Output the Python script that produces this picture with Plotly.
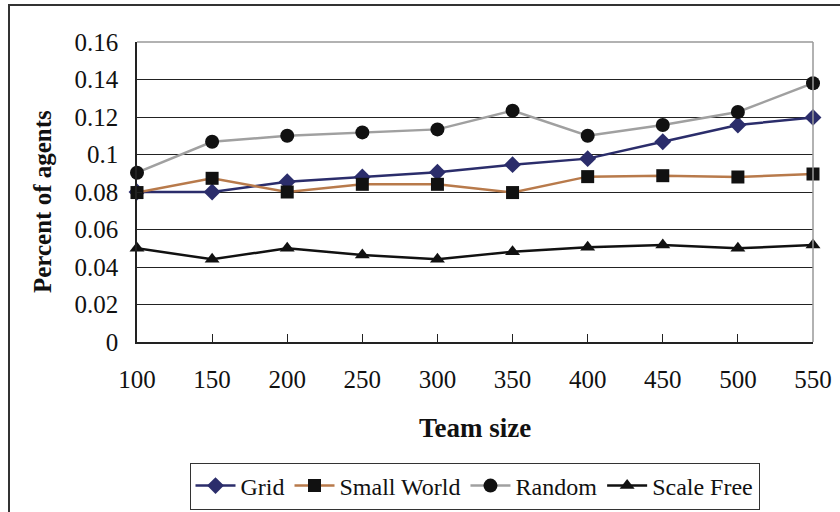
import plotly.graph_objects as go

team_size = [100, 150, 200, 250, 300, 350, 400, 450, 500, 550]
grid = [0.080, 0.080, 0.0855, 0.088, 0.0905, 0.0946, 0.0978, 0.1068, 0.1157, 0.1198]
small_world = [0.0797, 0.0873, 0.0800, 0.0841, 0.0841, 0.0797, 0.0882, 0.0887, 0.0880, 0.0896]
random_net = [0.0903, 0.1068, 0.1100, 0.1118, 0.1134, 0.1234, 0.1100, 0.1157, 0.1227, 0.1380]
scale_free = [0.0500, 0.0441, 0.0500, 0.0464, 0.0441, 0.0482, 0.0505, 0.0517, 0.0500, 0.0517]
y_ticks = [0, 0.02, 0.04, 0.06, 0.08, 0.1, 0.12, 0.14, 0.16]
y_ticktext = ["0", "0.02", "0.04", "0.06", "0.08", "0.1", "0.12", "0.14", "0.16"]

FONT = "Liberation Serif, Times New Roman, serif"

series = [
    ("Grid", grid, "#2B2D6B", "diamond", 13, "#2B2D6B"),
    ("Small World", small_world, "#B87A4B", "square", 13, "#111111"),
    ("Random", random_net, "#A0A0A0", "circle", 14, "#111111"),
    ("Scale Free", scale_free, "#111111", "triangle-up", 13, "#111111"),
]

fig = go.Figure()
for name, vals, lc, sym, sz, mc in series:
    fig.add_trace(go.Scatter(
        x=team_size, y=vals, name=name, mode="lines+markers",
        line=dict(color=lc, width=2.5),
        marker=dict(symbol=sym, size=sz, color=mc, line=dict(width=0)),
        cliponaxis=False,
    ))

L, R, T, B = 137, 27, 42, 170
W, H = 840, 512
pw, ph = W - L - R, H - T - B

def px_x(p):
    return (p - L) / pw

def px_y(p):
    return (H - B - p) / ph

fig.update_layout(
    width=W, height=H,
    margin=dict(l=L, r=R, t=T, b=B, autoexpand=False),
    paper_bgcolor="white", plot_bgcolor="white",
    font=dict(family=FONT, size=25, color="#111111"),
    showlegend=True,
    legend=dict(
        orientation="h", xref="container", yref="container",
        x=(182 + 767) / 2 / W, xanchor="center", y=1 - 486 / H, yanchor="middle",
        bordercolor="#333333", borderwidth=1, bgcolor="white",
        font=dict(family=FONT, size=24, color="#111111"),
        itemwidth=40, tracegroupgap=0,
    ),
    xaxis=dict(
        range=[100, 550], tickvals=team_size, ticktext=[str(v) for v in team_size],
        showgrid=False, zeroline=False, automargin=False,
        showline=True, linecolor="#222222", linewidth=1.5,
        ticks="inside", ticklen=8, tickcolor="#222222", tickwidth=1,
        ticklabelstandoff=14,
        tickfont=dict(family=FONT, size=25, color="#111111"),
    ),
    yaxis=dict(
        range=[0, 0.16], tickvals=y_ticks, ticktext=y_ticktext,
        showgrid=True, gridcolor="#222222", gridwidth=1,
        zeroline=False, automargin=False,
        showline=True, linecolor="#222222", linewidth=1.5,
        ticks="inside", ticklen=5, tickcolor="#222222",
        ticklabelstandoff=12,
        tickfont=dict(family=FONT, size=25, color="#111111"),
    ),
    annotations=[
        dict(text="<b>Team size</b>", x=0.5, y=px_y(428), xref="paper", yref="paper",
             xanchor="center", yanchor="middle", showarrow=False,
             font=dict(family=FONT, size=27, color="#111111")),
        dict(text="<b>Percent of agents</b>", x=px_x(42), y=px_y(202), xref="paper", yref="paper",
             xanchor="center", yanchor="middle", showarrow=False, textangle=-90,
             font=dict(family=FONT, size=25, color="#111111")),
    ],
    shapes=[
        dict(type="line", xref="paper", yref="paper", x0=1, x1=1, y0=0, y1=1,
             line=dict(color="#999999", width=1.5)),
        dict(type="line", xref="paper", yref="paper", x0=0, x1=1, y0=1, y1=1,
             line=dict(color="#999999", width=1.5)),
        dict(type="rect", xref="paper", yref="paper",
             x0=px_x(9), x1=px_x(845), y0=px_y(520), y1=px_y(5),
             line=dict(color="#333333", width=2), layer="below"),
    ],
)

fig.write_html("out.html")
